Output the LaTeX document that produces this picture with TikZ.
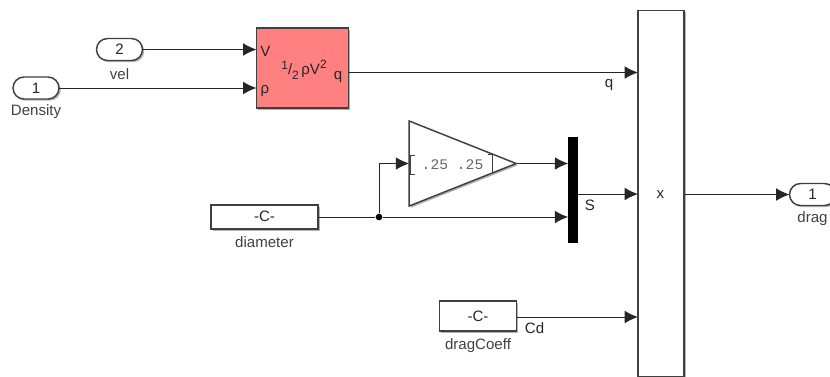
\documentclass[tikz,border=0pt]{standalone}
\usepackage{fontspec}
\setmainfont{Liberation Sans}
\newfontfamily\gainfont{Liberation Mono}
\usetikzlibrary{arrows.meta,shadows,shapes.geometric,shapes.misc}
\pgfdeclarelayer{bg}
\pgfsetlayers{bg,main}
\tikzset{
        blk/.style={draw=black!75, line width=1.1pt, fill=white, inner sep=0pt, outer sep=0pt,
                drop shadow={shadow xshift=1.3pt, shadow yshift=-1.3pt, fill=black, opacity=.3}},
        port/.style={blk, shape=rounded rectangle, minimum width=34.5pt, minimum height=16.5pt},
        const/.style={blk, shape=rectangle},
        lbl/.style={text=black!75, inner sep=0pt, font=\fontsize{11.3}{13}\selectfont},
        txt/.style={text=black!85, inner sep=0pt, font=\fontsize{11.3}{13}\selectfont},
        sig/.style={line width=.75pt, black!85, -{Latex[length=10pt,width=9.5pt]}},
        wire/.style={line width=.75pt, black!85}
}
\begin{document}
\begin{tikzpicture}[x=0.75pt,y=-0.75pt]
        \useasboundingbox (0,0) rectangle (830,376);

        \node (vel) [port] at (119.5,49.5) {};
        \node (velnum) [txt] at (119.5,49.5) {2};
        \node (vellbl) [lbl] at (119.5,74) {vel};
        \node (rho) [port] at (36,88) {};
        \node (rhonum) [txt] at (36,88) {1};
        \node (rholbl) [lbl] at (36,111.5) {Density};

        \node (dyn) [const, fill=red!50, minimum width=69pt, minimum height=60pt] at (302.5,68) {};
        \node (dynV) [txt] at (265.5,51) {V};
        \node (dynrho) [txt] at (265,91) {ρ};
        \node (dynq) [txt] at (338,77.5) {q};
        \node (dyneq) [txt] at (304,70) {\raisebox{3.5pt}{\fontsize{9}{9}\selectfont 1}/\raisebox{-4pt}{\fontsize{9}{9}\selectfont 2}\,ρV\raisebox{4.5pt}{\fontsize{9}{9}\selectfont 2}};
        \coordinate (inV) at (256.5,50);
        \coordinate (inrho) at (256.5,88);

        \node (gain) [blk, shape=isosceles triangle, isosceles triangle stretches,
                shape border rotate=0, minimum width=63.75pt, minimum height=80.25pt] at (438,163.5) {};
        \node (gaintxt) [inner sep=0pt, text=black!60, font=\gainfont\fontsize{11}{13}\selectfont] at (452.5,165) {.25 .25};
        \coordinate (brkL) at (410,155);
        \coordinate (brkR) at (492.5,154);
        \draw [line width=.7pt, black!75] ([xshift=3.5pt]brkL) -- (brkL) -- ++(0,19) -- ++(4.7,0);
        \draw [line width=.7pt, black!75] (brkR) ++(-5,0) -- (brkR) -- ++(0,18);

        \node (diameter) [const, minimum width=80pt, minimum height=18pt] at (264.5,217) {};
        \node (diamC) [txt] at (264.5,216.5) {-C-};
        \node (diamlbl) [lbl] at (264.5,242.5) {diameter};
        \node (split) [circle, fill=black, inner sep=0pt, minimum size=5pt] at (379,217) {};

        \node (bus) [rectangle, fill=black, inner sep=0pt, outer sep=0pt, minimum width=7.2pt, minimum height=79.5pt] at (573,190) {};
        \node (S) [txt] at (590,205) {S};

        \node (coeff) [const, minimum width=57.5pt, minimum height=22.5pt] at (478,316) {};
        \node (coeffC) [txt] at (478,316) {-C-};
        \node (coefflbl) [lbl] at (478,346) {dragCoeff};
        \node (Cd) [txt] at (534.5,328) {Cd};

        \node (prod) [const, minimum width=34.5pt, minimum height=274.5pt] at (661,193.5) {};
        \node (prodx) [txt] at (660.5,195) {x};
        \node (q) [txt] at (609,85) {q};

        \node (drag) [port] at (812.5,194.5) {};
        \node (dragnum) [txt] at (812.5,194.5) {1};
        \node (draglbl) [lbl] at (812.5,219) {drag};

        \begin{pgfonlayer}{bg}
                \draw [sig] (vel.east) -- (vel.east -| inV);
                \draw [sig] (rho.east) -- (inrho);
                \draw [sig] (dyn.east |- 0,72.5) -- (prod.west |- 0,72.5);
                \draw [sig] (split) |- (gain.west);
                \draw [wire] (diameter.east) -- (split);
                \draw [sig] (split) -- (split -| bus.west);
                \draw [sig] (gain.apex) -- (bus.west |- gain.apex);
                \draw [sig] (bus.east |- 0,194) -- (prod.west |- 0,194);
                \draw [sig] (coeff.east |- 0,317) -- (prod.west |- 0,317);
                \draw [sig] (prod.east |- drag.west) -- (drag.west);
        \end{pgfonlayer}
\end{tikzpicture}
\end{document}
